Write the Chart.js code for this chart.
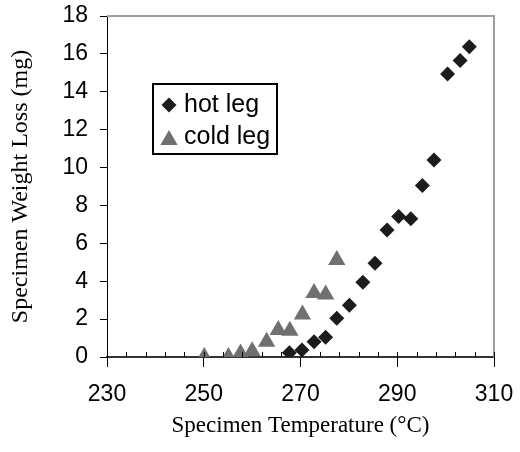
<!DOCTYPE html>
<html>
<head>
<meta charset="utf-8">
<script src="https://cdn.jsdelivr.net/npm/chart.js@4.4.0/dist/chart.umd.min.js"></script>
<style>
  html, body { margin: 0; padding: 0; background: #fff; }
  #wrap { width: 520px; height: 452px; }
</style>
</head>
<body>
<div id="wrap"><canvas id="myChart" width="520" height="452"></canvas></div>
<script>
// hot leg readings (temperature °C, weight loss mg)
const hotTemp = [267.7, 270.3, 272.8, 275.2, 277.5, 280.1, 282.9, 285.4, 287.9, 290.3, 292.8, 295.2, 297.6, 300.4, 303.0, 304.9];
const hotLoss = [0.23, 0.37, 0.81, 1.04, 2.04, 2.73, 3.94, 4.95, 6.71, 7.41, 7.30, 9.05, 10.40, 14.94, 15.65, 16.38];
// cold leg readings
const coldTemp = [250.1, 255.1, 257.6, 260.0, 263.0, 265.4, 267.8, 270.4, 272.8, 275.2, 277.5];
const coldLoss = [0, 0, 0.19, 0.30, 0.80, 1.42, 1.38, 2.24, 3.38, 3.30, 5.12];
const xTicks = [230, 250, 270, 290, 310];
const yTicks = [0, 2, 4, 6, 8, 10, 12, 14, 16, 18];

const toPoints = (xs, ys) => xs.map((x, i) => ({x: x, y: ys[i]}));

// keep the plot box where the layout padding puts it
function noPad(s) {
    s.paddingTop = 0;
    s.paddingBottom = 0;
    s.paddingLeft = 0;
    s.paddingRight = 0;
}

// gray frame on top/right, minor x ticks, legend box
const extras = {
    id: 'extras',
    afterDraw(chart) {
        const ctx = chart.ctx;
        const a = chart.chartArea;
        const xs = chart.scales.x;
        ctx.save();
        ctx.strokeStyle = '#a0a0a0';
        ctx.lineWidth = 2;
        ctx.beginPath();
        ctx.moveTo(a.left, a.top);
        ctx.lineTo(a.right, a.top);
        ctx.lineTo(a.right, a.bottom);
        ctx.stroke();

        ctx.strokeStyle = '#000';
        ctx.lineWidth = 1;
        for (let v = 230; v <= 310; v += 4) {
            if (v % 20 === 0) continue;
            const px = Math.round(xs.getPixelForValue(v)) + 0.5;
            ctx.beginPath();
            ctx.moveTo(px, a.bottom);
            ctx.lineTo(px, a.bottom - 5);
            ctx.stroke();
        }

        // legend
        const bx = 153, by = 84, bw = 124, bh = 70;
        ctx.fillStyle = '#fff';
        ctx.fillRect(bx, by, bw, bh);
        ctx.strokeStyle = '#000';
        ctx.lineWidth = 2;
        ctx.strokeRect(bx, by, bw, bh);
        ctx.font = '25px "Liberation Sans", Arial, sans-serif';
        ctx.textBaseline = 'middle';
        chart.data.datasets.forEach((ds, i) => {
            const cy = by + 21 + i * 32;
            ctx.fillStyle = ds.backgroundColor;
            ctx.strokeStyle = ds.borderColor;
            Chart.helpers.drawPoint(ctx, {pointStyle: ds.pointStyle, radius: ds.pointRadius, borderWidth: 0}, bx + 16, cy + (i ? 3 : 0));
            ctx.fillStyle = '#000';
            ctx.fillText(ds.label, bx + 31, cy);
        });
        ctx.restore();
    }
};

new Chart(document.getElementById('myChart'), {
    type: 'scatter',
    data: {
        datasets: [{
            label: 'hot leg',
            data: toPoints(hotTemp, hotLoss),
            pointStyle: 'rectRot',
            pointRadius: 7.5,
            backgroundColor: '#1c1c1c',
            borderColor: '#1c1c1c',
            borderWidth: 0
        }, {
            label: 'cold leg',
            data: toPoints(coldTemp, coldLoss),
            pointStyle: 'triangle',
            pointRadius: 10,
            backgroundColor: '#707070',
            borderColor: '#707070',
            borderWidth: 0
        }]
    },
    options: {
        responsive: false,
        animation: false,
        layout: {padding: {left: 0, top: 16, right: 26, bottom: 0}},
        plugins: {legend: {display: false}, tooltip: {enabled: false}},
        scales: {
            x: {
                type: 'linear',
                min: 230, max: 310,
                afterBuildTicks: s => { s.ticks = xTicks.map(v => ({value: v})); },
                afterFit: s => { s.height = 95; noPad(s); },
                ticks: {color: '#000', padding: 14, font: {family: '"Liberation Sans", Arial', size: 23}},
                grid: {drawOnChartArea: false, tickLength: 10, color: '#000', tickColor: '#000'},
                border: {color: '#333', width: 2},
                title: {
                    display: true,
                    text: 'Specimen Temperature (°C)',
                    color: '#000',
                    font: {family: '"Liberation Serif", "Times New Roman", serif', size: 23},
                    padding: {top: 0, bottom: 12}
                }
            },
            y: {
                min: 0, max: 18,
                afterBuildTicks: s => { s.ticks = yTicks.map(v => ({value: v})); },
                afterFit: s => { s.width = 107; noPad(s); },
                ticks: {color: '#000', padding: 12, font: {family: '"Liberation Sans", Arial', size: 23}},
                grid: {drawOnChartArea: false, tickLength: 7, color: '#000', tickColor: '#000'},
                border: {color: '#000', width: 1},
                title: {
                    display: true,
                    text: 'Specimen Weight Loss (mg)',
                    color: '#000',
                    font: {family: '"Liberation Serif", "Times New Roman", serif', size: 24},
                    padding: {top: 6, bottom: 0}
                }
            }
        }
    },
    plugins: [extras]
});
</script>
</body>
</html>
